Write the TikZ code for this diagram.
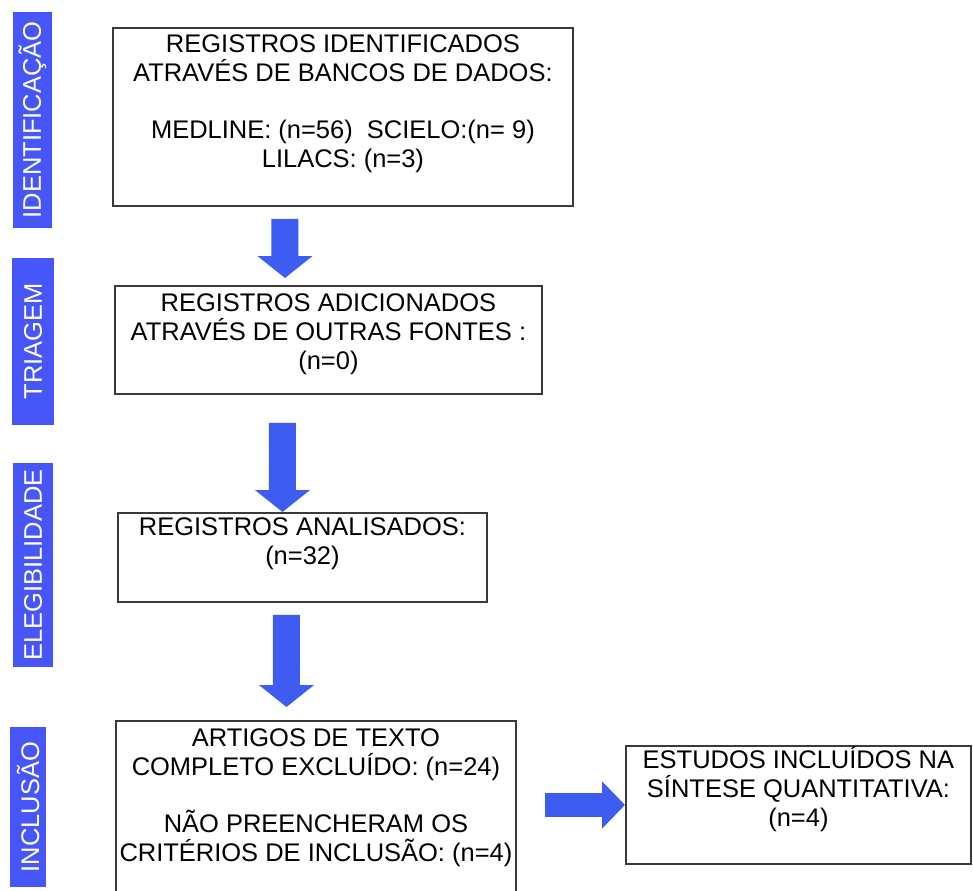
\documentclass[tikz,border=0pt]{standalone}
\usepackage{fontspec}
\setmainfont{Liberation Sans}
\usetikzlibrary{arrows.meta,positioning,calc}
\definecolor{phaseblue}{HTML}{4656F8}
\definecolor{arrowblue}{HTML}{3F5CF2}
\definecolor{framegray}{HTML}{3A3A3A}

\begin{document}
\begin{tikzpicture}[x=0.02cm, y=-0.02cm,
    phase/.style={fill=phaseblue, text=white, rotate=90, inner sep=0pt, font=\fontsize{14.5}{16.5}\selectfont},
    record/.style={draw=framegray, line width=1.1pt, anchor=north west, align=center, inner xsep=1pt, inner ysep=0pt, font=\fontsize{14.5}{16.5}\selectfont},
    arrow/.style={-{Triangle[length=0.44cm, width=1.08cm]}, line width=0.54cm, color=arrowblue},
    sidearrow/.style={-{Triangle[length=0.46cm, width=0.92cm]}, line width=0.48cm, color=arrowblue}
]
\useasboundingbox (0,0) rectangle (973,890);
\clip (0,0) rectangle (973,890);

\node[phase, minimum width=4.32cm, minimum height=0.78cm] (identificacao) at (32.5,120) {IDENTIFICAÇÃO};
\node[phase, minimum width=3.34cm, minimum height=0.84cm] (triagem) at (33,341.5) {TRIAGEM};
\node[phase, minimum width=4.08cm, minimum height=0.8cm] (elegibilidade) at (33,565) {ELEGIBILIDADE};
\node[phase, minimum width=3.2cm, minimum height=0.72cm] (inclusao) at (28,807) {INCLUSÃO};

\node[record, minimum width=9.2cm, text height=2.8cm, text depth=0.76cm] (identified) at (112,27) {REGISTROS IDENTIFICADOS\\ATRAVÉS DE BANCOS DE DADOS:\\[16pt]MEDLINE: (n=56)~ SCIELO:(n= 9)\\LILACS: (n=3)};
\node[record, minimum width=8.54cm, text height=1.68cm, text depth=0.48cm] (added) at (114,285) {REGISTROS ADICIONADOS\\ATRAVÉS DE OUTRAS FONTES :\\(n=0)};
\node[record, minimum width=7.38cm, text height=1.04cm, text depth=0.74cm] (analysed) at (117,512) {REGISTROS ANALISADOS:\\(n=32)};
\node[record, minimum width=8.0cm, text height=2.82cm, text depth=0.8cm] (excluded) at (115,720) {ARTIGOS DE TEXTO\\COMPLETO EXCLUÍDO: (n=24)\\[16pt]NÃO PREENCHERAM OS\\CRITÉRIOS DE INCLUSÃO: (n=4)};
\node[record, minimum width=6.9cm, text height=1.62cm, text depth=0.74cm] (included) at (625,745) {ESTUDOS INCLUÍDOS NA\\SÍNTESE QUANTITATIVA:\\(n=4)};

\draw[arrow, shorten <=0.24cm, shorten >=0.14cm] ([xshift=3.46cm]identified.south west) -- ([xshift=3.42cm]added.north west);
\draw[arrow, shorten <=0.56cm] ([xshift=3.37cm]added.south west) -- ([xshift=3.31cm]analysed.north west);
\draw[arrow, shorten <=0.24cm, shorten >=0.26cm] ([xshift=3.39cm]analysed.south west) -- ([xshift=3.43cm]excluded.north west);
\draw[sidearrow, shorten <=0.56cm] (excluded.east |- included.west) -- (included.west);

\end{tikzpicture}
\end{document}
